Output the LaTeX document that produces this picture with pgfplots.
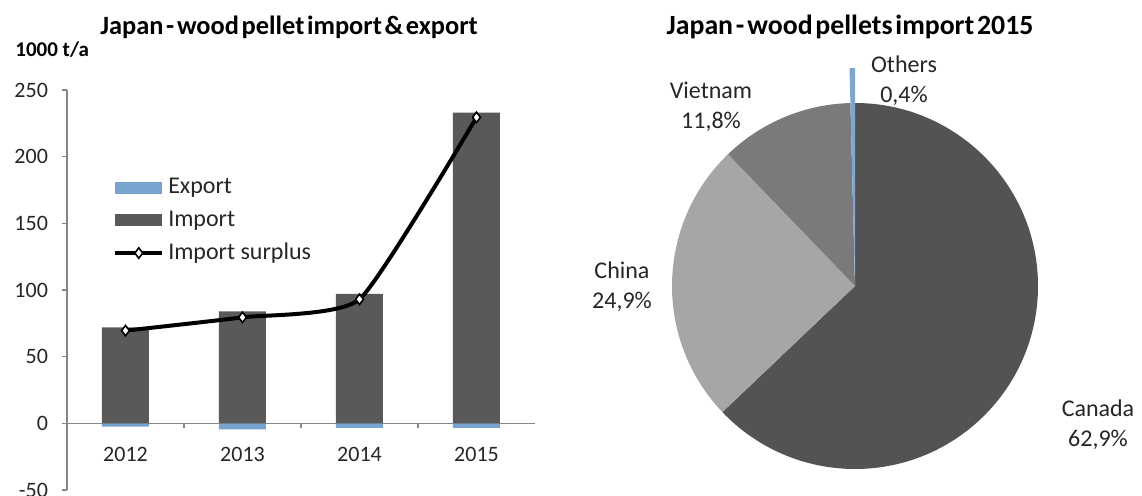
\documentclass[border=0pt]{standalone}
\usepackage{pgfplots}
\pgfplotsset{compat=1.18}
\usepackage{pgfplotstable}
\usepackage{fontspec}
\setmainfont{Carlito}
\newfontfamily\titlefont[WordSpace=0.45]{Carlito}
\definecolor{importc}{RGB}{89,89,89}
\definecolor{exportc}{RGB}{120,163,207}
\definecolor{axisgray}{RGB}{134,134,134}
\definecolor{txt}{RGB}{38,38,38}
\definecolor{canadac}{RGB}{83,83,83}
\definecolor{chinac}{RGB}{166,166,166}
\definecolor{vietc}{RGB}{122,122,122}
\definecolor{othc}{RGB}{126,166,207}

\pgfplotstableread{
x year import export surplus
0 2012 72 -2.5 69.5
1 2013 84 -4.5 79.5
2 2014 97 -3.5 93
3 2015 233 -3.5 229.5
}\trade

\pgfplotstableread{
country share
Canada 62.9
China 24.9
Vietnam 11.8
Others 0.4
}\piedata

\begin{document}
\begin{tikzpicture}
\useasboundingbox (0,0) rectangle (571pt,-248pt);
\pgfplotstablegetelem{0}{share}\of\piedata \edef\sA{\pgfplotsretval}
\pgfplotstablegetelem{1}{share}\of\piedata \edef\sB{\pgfplotsretval}
\pgfplotstablegetelem{2}{share}\of\piedata \edef\sC{\pgfplotsretval}
\pgfplotstablegetelem{3}{share}\of\piedata \edef\sD{\pgfplotsretval}

\begin{axis}[
  at={(33.5pt,-245pt)}, anchor=south west,
  scale only axis, width=234pt, height=200pt,
  xmin=-0.5, xmax=3.5, ymin=-50, ymax=250,
  axis x line=middle, axis y line=left,
  axis line style={-, draw=axisgray, line width=0.6pt},
  xtick={0,1,2,3}, xticklabels={2012,2013,2014,2015},
  xtick style={draw=none},
  ytick={-50,0,...,250},
  tick align=outside, major tick length=2.5pt,
  ytick style={draw=axisgray, line width=0.6pt},
  xticklabel style={yshift=-6pt, font=\fontsize{11}{13}\selectfont, text=txt},
  yticklabel style={xshift=-3.5pt, font=\fontsize{11}{13}\selectfont, text=txt},
  /pgf/number format/assume math mode=true,
  clip=false,
  legend style={at={(0.098,0.79)}, anchor=north west, draw=none, fill=none,
    font=\fontsize{12}{14}\selectfont, text=txt, inner sep=0pt,
    row sep=3pt, cells={anchor=west}},
]
\addplot[ybar, bar width=23.5pt, bar shift=0pt, fill=exportc, draw=none,
  legend image code/.code={\fill[exportc] (0pt,-3pt) rectangle (23.5pt,3pt);}]
  table[x=x,y=export]{\trade};
\addlegendentry{Export}
\addplot[ybar, bar width=23.5pt, bar shift=0pt, fill=importc, draw=none,
  legend image code/.code={\fill[importc] (0pt,-3pt) rectangle (23.5pt,3pt);}]
  table[x=x,y=import]{\trade};
\addlegendentry{Import}
\addplot[black, line width=2pt, smooth, tension=0.3, mark=diamond*, mark size=2.6pt,
  mark options={fill=white, draw=black, line width=0.8pt},
  legend image code/.code={\draw[black, line width=2pt] (0pt,0pt) -- (23.5pt,0pt);
    \draw[black, line width=0.8pt, fill=white] plot[mark=diamond*, mark size=2.6pt] coordinates {(11.75pt,0pt)};}]
  table[x=x,y=surplus]{\trade};
\addlegendentry{Import surplus}
\draw[axisgray, line width=0.6pt] (axis cs:0.5,0) -- ++(0pt,-2.5pt);
\draw[axisgray, line width=0.6pt] (axis cs:1.5,0) -- ++(0pt,-2.5pt);
\draw[axisgray, line width=0.6pt] (axis cs:2.5,0) -- ++(0pt,-2.5pt);
\end{axis}

\begin{axis}[
  at={(427.5pt,-143pt)}, anchor=center,
  scale only axis, width=183pt, height=183pt,
  hide axis, xmin=-1, xmax=1, ymin=-1, ymax=1, clip=false,
]
\pgfplotsextra{
  \pgfmathsetmacro\aA{90}
  \pgfmathsetmacro\aB{\aA-3.6*\sA}
  \pgfmathsetmacro\aC{\aB-3.6*\sB}
  \pgfmathsetmacro\aD{\aC-3.6*\sC}
  \pgfmathsetmacro\aE{\aD-3.6*\sD}
  \fill[canadac] (axis cs:0,0) -- ++(\aA:91.5pt) arc[start angle=\aA, end angle=\aB, radius=91.5pt] -- cycle;
  \fill[chinac] (axis cs:0,0) -- ++(\aB:91.5pt) arc[start angle=\aB, end angle=\aC, radius=91.5pt] -- cycle;
  \fill[vietc] (axis cs:0,0) -- ++(\aC:91.5pt) arc[start angle=\aC, end angle=\aD, radius=91.5pt] -- cycle;
  \fill[othc] (axis cs:0,0) -- ++(\aD:109pt) arc[start angle=\aD, end angle=\aE, radius=109pt] -- cycle;
}
\end{axis}

\node[font=\titlefont\fontsize{13.2}{15}\bfseries\selectfont, anchor=west, inner sep=0pt, text=black] at (50pt,-13.5pt) {Japan - wood pellet import \& export};
\node[font=\titlefont\fontsize{13.9}{15}\bfseries\selectfont, text=black] at (425pt,-13.5pt) {Japan - wood pellets import 2015};
\node[font=\fontsize{10.5}{12}\bfseries\selectfont, anchor=west, inner sep=0pt, text=black] at (7.5pt,-25pt) {1000 t/a};

\pgfkeys{/pgf/number format/.cd, use comma, fixed, fixed zerofill, precision=1, assume math mode=true}
\node[font=\fontsize{12}{15}\selectfont, align=center, text=txt] at (452pt,-40.5pt) {Others\\\pgfmathprintnumber{\sD}\%};
\node[font=\fontsize{12}{15}\selectfont, align=center, text=txt] at (355.5pt,-53.5pt) {Vietnam\\\pgfmathprintnumber{\sC}\%};
\node[font=\fontsize{12}{15}\selectfont, align=center, text=txt] at (311pt,-143.5pt) {China\\\pgfmathprintnumber{\sB}\%};
\node[font=\fontsize{12}{15}\selectfont, align=center, text=txt] at (549pt,-212.5pt) {Canada\\\pgfmathprintnumber{\sA}\%};
\end{tikzpicture}
\end{document}
